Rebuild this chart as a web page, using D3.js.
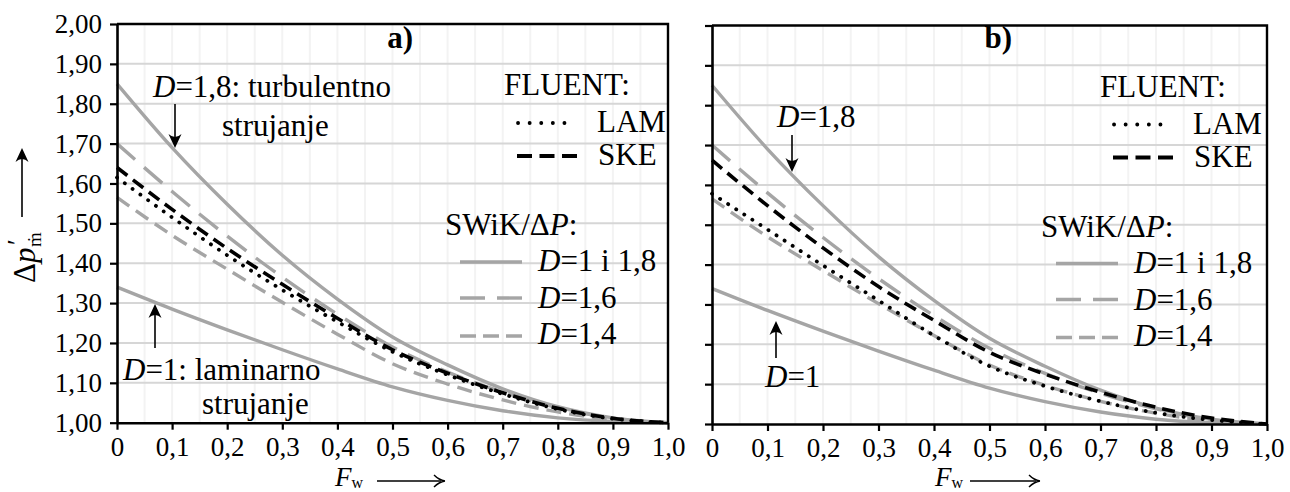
<!DOCTYPE html>
<html><head><meta charset="utf-8">
<script src="https://cdn.jsdelivr.net/npm/d3@7"></script>
<style>
body{margin:0;background:#fff;overflow:hidden}
svg{display:block}
svg text{font-family:"Liberation Serif","Times New Roman",serif;fill:#000}
</style>
</head><body><svg id="c" width="1290" height="492"></svg>
<script>
// ---------- data ----------
const Fw = [0, 0.1, 0.2, 0.3, 0.4, 0.5, 0.6, 0.7, 0.8, 0.9, 1.0];
const xTickLabels = ["0","0,1","0,2","0,3","0,4","0,5","0,6","0,7","0,8","0,9","1,0"];
const yTicks = [1.0,1.1,1.2,1.3,1.4,1.5,1.6,1.7,1.8,1.9,2.0];
const yTickLabels = ["1,00","1,10","1,20","1,30","1,40","1,50","1,60","1,70","1,80","1,90","2,00"];

// SWiK/ΔP model curves (same in both panels)
const swikD1  = [1.340, 1.285, 1.233, 1.183, 1.135, 1.090, 1.056, 1.030, 1.012, 1.003, 1.000];
const swikD14 = [1.565, 1.470, 1.385, 1.302, 1.222, 1.148, 1.097, 1.057, 1.027, 1.008, 1.000];
const swikD16 = [1.700, 1.580, 1.468, 1.365, 1.272, 1.190, 1.127, 1.077, 1.038, 1.011, 1.000];
const swikD18 = [1.850, 1.690, 1.548, 1.420, 1.310, 1.215, 1.145, 1.085, 1.040, 1.012, 1.000];

// FLUENT results, panel a)
const lamA = [1.615, 1.515, 1.420, 1.333, 1.253, 1.178, 1.120, 1.072, 1.034, 1.010, 1.000];
const skeA = [1.640, 1.535, 1.437, 1.347, 1.262, 1.183, 1.124, 1.075, 1.036, 1.011, 1.000];
// FLUENT results, panel b)
const lamB = [1.578, 1.488, 1.398, 1.310, 1.222, 1.145, 1.095, 1.057, 1.028, 1.010, 1.000];
const skeB = [1.662, 1.548, 1.442, 1.345, 1.260, 1.180, 1.125, 1.080, 1.042, 1.015, 1.000];

const panelNames = ["a)", "b)"];

// ---------- drawing ----------
const GREY = "#a5a5a5";
const svg = d3.select("#c");

function rich(g, x, y, parts, size, anchor) {
  const t = g.append("text").attr("x", x).attr("y", y)
    .attr("font-size", size).attr("text-anchor", anchor || "start");
  parts.forEach(p => {
    const s = t.append("tspan").text(p[0]);
    if (p[1]) s.attr("font-style", "italic");
  });
  return t;
}
function arrowV(g, x, yFrom, yTo) {
  const dir = yTo > yFrom ? 1 : -1;
  g.append("line").attr("x1", x).attr("x2", x).attr("y1", yFrom).attr("y2", yTo - dir * 6)
    .attr("stroke", "#000").attr("stroke-width", 1.6);
  g.append("path").attr("d",
    `M${x},${yTo} L${x-6.5},${yTo - dir*14} Q${x},${yTo - dir*8} ${x+6.5},${yTo - dir*14} Z`)
    .attr("fill", "#000");
}
function arrowH(g, xFrom, xTo, y) {
  g.append("line").attr("x1", xFrom).attr("x2", xTo - 4).attr("y1", y).attr("y2", y)
    .attr("stroke", "#000").attr("stroke-width", 1.4);
  g.append("path").attr("d", `M${xTo},${y} Q${xTo-6},${y-1} ${xTo-11},${y-6} M${xTo},${y} Q${xTo-6},${y+1} ${xTo-11},${y+6}`)
    .attr("fill", "none").attr("stroke", "#000").attr("stroke-width", 1.4);
}

const panels = [
  { x0: 117, x1: 668, yb: 422.7, yt: 24, lam: lamA, ske: skeA, labels: true, ldx: 0, ldy: 0 },
  { x0: 712, x1: 1267, yb: 424, yt: 25.5, lam: lamB, ske: skeB, labels: false, ldx: 596, ldy: 1.5 }
];

panels.forEach((p, pi) => {
  const x = d3.scaleLinear().domain([0, 1]).range([p.x0, p.x1]);
  const y = d3.scaleLinear().domain([1, 2]).range([p.yb, p.yt]);
  const g = svg.append("g");

  // faint vertical grid
  g.selectAll("line.vg").data(d3.range(1, 20).map(i => i * 0.05)).enter().append("line")
    .attr("x1", d => x(d)).attr("x2", d => x(d)).attr("y1", p.yt).attr("y2", p.yb)
    .attr("stroke", "#f3f3f3").attr("stroke-width", 2);
  // horizontal grid
  g.selectAll("line.hg").data(yTicks.slice(1, -1)).enter().append("line")
    .attr("x1", p.x0).attr("x2", p.x1).attr("y1", d => y(d)).attr("y2", d => y(d))
    .attr("stroke", "#d6d6d6").attr("stroke-width", 2);

  const line = d3.line().x((d, i) => x(Fw[i])).y(d => y(d)).curve(d3.curveMonotoneX);
  const series = [
    { v: swikD1, c: GREY, w: 3.4, dash: null },
    { v: swikD18, c: GREY, w: 3.4, dash: null },
    { v: swikD16, c: GREY, w: 3.4, dash: "24,12" },
    { v: swikD14, c: GREY, w: 3.4, dash: "15,8" },
    { v: p.ske, c: "#000", w: 3.6, dash: "13,7" },
    { v: p.lam, c: "#000", w: 3.8, dash: "0.1,9.5", cap: "round" }
  ];
  series.forEach(s => {
    g.append("path").attr("d", line(s.v)).attr("fill", "none")
      .attr("stroke", s.c).attr("stroke-width", s.w)
      .attr("stroke-dasharray", s.dash).attr("stroke-linecap", s.cap || "butt");
  });

  // axes
  const ya = d3.axisLeft(y).tickValues(yTicks).tickSize(7).tickSizeOuter(0).tickPadding(8)
    .tickFormat((d, i) => p.labels ? yTickLabels[i] : "");
  const yg = g.append("g").attr("transform", `translate(${p.x0},0)`).call(ya);
  const xa = d3.axisBottom(x).tickValues(Fw).tickSize(7).tickSizeOuter(0).tickPadding(7)
    .tickFormat((d, i) => xTickLabels[i]);
  const xg = g.append("g").attr("transform", `translate(0,${p.yb})`).call(xa);
  [yg, xg].forEach(a => {
    a.select(".domain").attr("stroke", "#000").attr("stroke-width", 2.6);
    a.selectAll(".tick line").attr("stroke", "#000").attr("stroke-width", 2.2);
    a.selectAll(".tick text").attr("font-size", 27)
      .attr("font-family", '"Liberation Serif","Times New Roman",serif').attr("fill", "#000");
  });
  // top and right border
  g.append("path").attr("d", `M${p.x0},${p.yt} H${p.x1} V${p.yb}`)
    .attr("fill", "none").attr("stroke", "#000").attr("stroke-width", 2.4);

  // panel label
  g.append("text").attr("x", p.x1 - 255).attr("y", 48).attr("font-size", 31)
    .attr("font-weight", "bold").attr("text-anchor", "end").text(panelNames[pi]);

  // legend
  const L = g.append("g").attr("transform", `translate(${p.ldx},${p.ldy})`);
  L.append("text").attr("x", 630).attr("y", 95).attr("font-size", 31).attr("text-anchor", "end").text("FLUENT:");
  L.append("line").attr("x1", 518).attr("x2", 576).attr("y1", 123).attr("y2", 123)
    .attr("stroke", "#000").attr("stroke-width", 3.8).attr("stroke-dasharray", "0.1,11.5").attr("stroke-linecap", "round");
  L.append("text").attr("x", 597).attr("y", 132).attr("font-size", 31).text("LAM");
  L.append("line").attr("x1", 517).attr("x2", 577).attr("y1", 156).attr("y2", 156)
    .attr("stroke", "#000").attr("stroke-width", 3.8).attr("stroke-dasharray", "15,7.5");
  L.append("text").attr("x", 598).attr("y", 165).attr("font-size", 31).text("SKE");
  rich(L, 445, 235, [["SWiK/Δ", 0], ["P", 1], [":", 0]], 31);
  const leg = [
    { yl: 262, yt: 271, dash: null, lbl: [["D", 1], ["=1 i 1,8", 0]] },
    { yl: 298, yt: 308, dash: "25,12", lbl: [["D", 1], ["=1,6", 0]] },
    { yl: 336, yt: 344, dash: "16,7", lbl: [["D", 1], ["=1,4", 0]] }
  ];
  leg.forEach(l => {
    L.append("line").attr("x1", 460).attr("x2", 522).attr("y1", l.yl).attr("y2", l.yl)
      .attr("stroke", GREY).attr("stroke-width", 3.4).attr("stroke-dasharray", l.dash);
    rich(L, 538, l.yt, l.lbl, 31);
  });
});

// annotations panel a
const A = svg.append("g");
rich(A, 153, 97, [["D", 1], ["=1,8: turbulentno", 0]], 31);
A.append("text").attr("x", 222).attr("y", 136).attr("font-size", 31).text("strujanje");
arrowV(A, 175, 104, 148);
rich(A, 123, 380, [["D", 1], ["=1: laminarno", 0]], 31);
A.append("text").attr("x", 202).attr("y", 414).attr("font-size", 31).text("strujanje");
arrowV(A, 155, 348, 304);

// annotations panel b
rich(A, 777, 127, [["D", 1], ["=1,8", 0]], 31);
arrowV(A, 792, 135, 172);
rich(A, 765, 387, [["D", 1], ["=1", 0]], 31);
arrowV(A, 776, 358, 321);

// axis titles
const yl = svg.append("g").attr("transform", "translate(35,283) rotate(-90)");
yl.append("text").attr("x", 0).attr("y", 0).attr("font-size", 31).text("Δ");
yl.append("text").attr("x", 20).attr("y", 0).attr("font-size", 31).attr("font-style", "italic").text("p");
yl.append("text").attr("x", 36).attr("y", 6).attr("font-size", 19).text("ṁ");
yl.append("text").attr("x", 38).attr("y", -9).attr("font-size", 27).text("′");
arrowV(svg, 22, 217, 148);

[[335, 377, 445], [935, 970, 1040]].forEach(a => {
  const t = svg.append("text").attr("x", a[0]).attr("y", 486).attr("font-size", 27);
  t.append("tspan").attr("font-style", "italic").text("F");
  t.append("tspan").attr("font-size", 16).attr("dy", 2).text("w");
  arrowH(svg, a[1], a[2], 481);
});
</script>
</body></html>
